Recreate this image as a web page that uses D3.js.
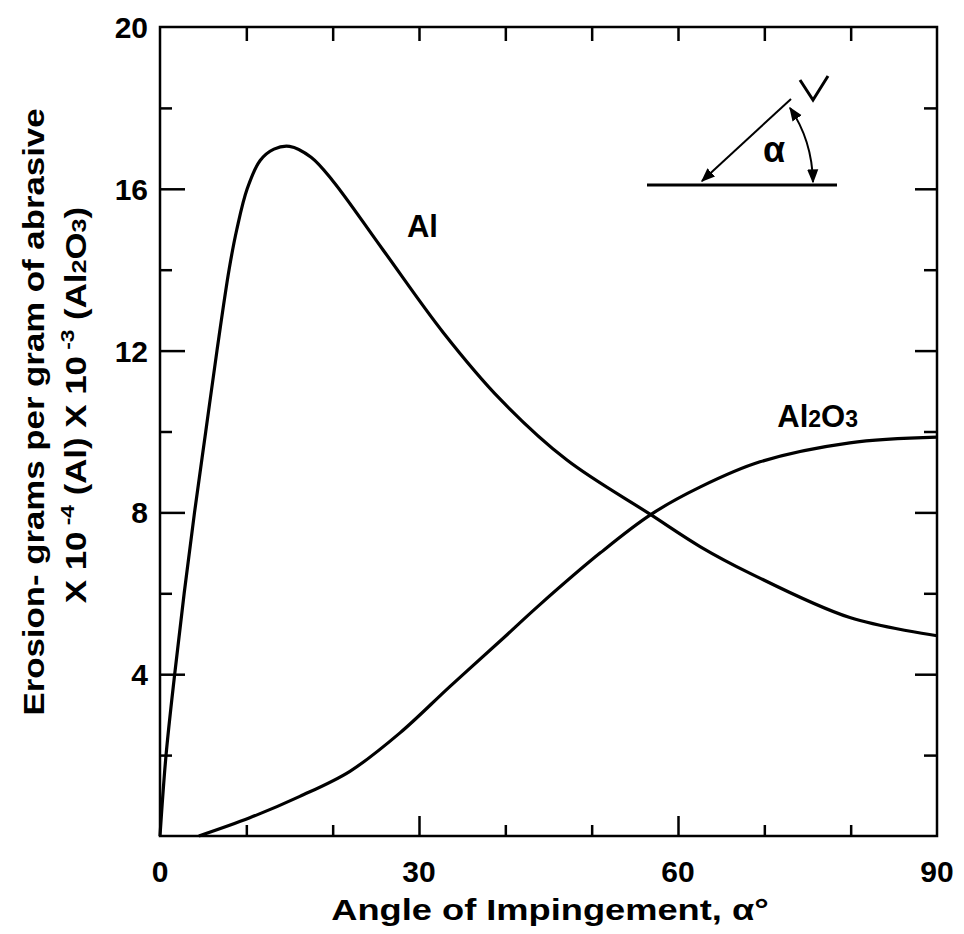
<!DOCTYPE html>
<html>
<head>
<meta charset="utf-8">
<script src="https://cdn.jsdelivr.net/npm/d3@7"></script>
<style>
  body { margin: 0; background: #fff; }
  text { font-family: "Liberation Sans", Arial, sans-serif; font-weight: bold; fill: #000; }
</style>
</head>
<body>
<div id="chart"></div>
<script>
// Data: angle (deg) vs erosion
var alAngle = [0, 0.7, 1.7, 2.8, 4.0, 5.3, 6.6, 8.0, 8.9, 10.1, 11.6, 13.2, 15.0, 17.5, 20.0, 25.8, 32.8, 39.4, 47.1, 56.8, 62.6, 68.3, 79.9, 90];
var alErosion = [0, 2.0, 4.0, 6.0, 8.0, 10.0, 12.0, 14.0, 15.0, 16.0, 16.7, 16.98, 17.05, 16.78, 16.2, 14.5, 12.45, 10.8, 9.3, 7.95, 7.15, 6.5, 5.4, 4.95];

var oxAngle = [4.5, 10.4, 16.2, 22.0, 27.8, 33.6, 39.4, 44.0, 51.0, 56.8, 62.6, 69.5, 79.9, 90];
var oxErosion = [0, 0.45, 0.98, 1.6, 2.55, 3.7, 4.82, 5.72, 7.0, 7.94, 8.63, 9.25, 9.72, 9.86];

var xTicks = [0, 10, 20, 30, 40, 50, 60, 70, 80, 90];
var xLabels = [0, 30, 60, 90];
var yTicks = [0, 2, 4, 6, 8, 10, 12, 14, 16, 18, 20];
var yLabels = [4, 8, 12, 16, 20];

var svgWidth = 964;
var svgHeight = 934;
var margin = { top: 27, right: 27, bottom: 98, left: 160 };
var width = svgWidth - margin.left - margin.right;
var height = svgHeight - margin.top - margin.bottom;

var svg = d3.select('#chart').append('svg').attr('width', svgWidth).attr('height', svgHeight);
var chartGroup = svg.append('g').attr('transform', `translate(${margin.left}, ${margin.top})`);

var xScale = d3.scaleLinear().domain([0, 90]).range([0, width]);
var yScale = d3.scaleLinear().domain([0, 20]).range([height, 0]);

// Axes: ticks point inward, majors longer than minors
function styleAxis(g) {
  g.select('.domain').remove();
  g.selectAll('.tick line').attr('stroke', '#000').attr('stroke-width', 2.5);
  g.selectAll('.tick text').remove();
}

var xMinor = xTicks.filter((d) => xLabels.indexOf(d) < 0);
var yMinor = yTicks.filter((d) => yLabels.indexOf(d) < 0 && d !== 0);

chartGroup.append('g').attr('transform', `translate(0, ${height})`)
  .call(d3.axisBottom(xScale).tickValues(xMinor).tickSize(-11)).call(styleAxis);
chartGroup.append('g').attr('transform', `translate(0, ${height})`)
  .call(d3.axisBottom(xScale).tickValues([30, 60]).tickSize(-20)).call(styleAxis);
chartGroup.append('g')
  .call(d3.axisTop(xScale).tickValues(xMinor.concat([30, 60])).tickSize(-14)).call(styleAxis);
chartGroup.append('g')
  .call(d3.axisLeft(yScale).tickValues(yMinor).tickSize(-12)).call(styleAxis);
chartGroup.append('g')
  .call(d3.axisLeft(yScale).tickValues([4, 8, 12, 16]).tickSize(-25)).call(styleAxis);
chartGroup.append('g').attr('transform', `translate(${width}, 0)`)
  .call(d3.axisRight(yScale).tickValues(yMinor).tickSize(-13)).call(styleAxis);
chartGroup.append('g').attr('transform', `translate(${width}, 0)`)
  .call(d3.axisRight(yScale).tickValues([4, 8, 12, 16]).tickSize(-22)).call(styleAxis);

// frame
chartGroup.append('rect')
  .attr('x', 0).attr('y', 0).attr('width', width).attr('height', height)
  .attr('fill', 'none').attr('stroke', '#000').attr('stroke-width', 2.5);

// tick labels
chartGroup.selectAll('.xLabel').data(xLabels).enter().append('text')
  .attr('x', (d) => xScale(d)).attr('y', height + 46)
  .attr('text-anchor', 'middle').attr('font-size', '30px')
  .text((d) => d);

chartGroup.selectAll('.yLabel').data(yLabels).enter().append('text')
  .attr('x', -12).attr('y', (d) => yScale(d) + 11)
  .attr('text-anchor', 'end').attr('font-size', '30px')
  .text((d) => d);

// curves
var line = d3.line().x((d) => xScale(d[0])).y((d) => yScale(d[1])).curve(d3.curveCatmullRom.alpha(0.5));
var alData = alAngle.map((a, i) => [a, alErosion[i]]);
var oxData = oxAngle.map((a, i) => [a, oxErosion[i]]);

chartGroup.append('path').datum(alData).attr('d', line)
  .attr('fill', 'none').attr('stroke', '#000').attr('stroke-width', 3.2);
chartGroup.append('path').datum(oxData).attr('d', line)
  .attr('fill', 'none').attr('stroke', '#000').attr('stroke-width', 3.2);

// curve labels
chartGroup.append('text').attr('x', xScale(28.6)).attr('y', yScale(14.8))
  .attr('font-size', '31px').text('Al');
var oxLabel = chartGroup.append('text').attr('x', xScale(71.5)).attr('y', yScale(10.1))
  .attr('font-size', '31px');
oxLabel.append('tspan').text('Al');
oxLabel.append('tspan').attr('font-size', '23px').text('2');
oxLabel.append('tspan').text('O');
oxLabel.append('tspan').attr('font-size', '23px').text('3');

// inset sketch of impingement angle
var inset = svg.append('g');
inset.append('line').attr('x1', 647).attr('y1', 185).attr('x2', 837).attr('y2', 185)
  .attr('stroke', '#000').attr('stroke-width', 3);
svg.append('defs').append('marker')
  .attr('id', 'arrow').attr('viewBox', '0 0 10 10').attr('refX', 9).attr('refY', 5)
  .attr('markerWidth', 7).attr('markerHeight', 7).attr('orient', 'auto-start-reverse')
  .append('path').attr('d', 'M0,1 L10,5 L0,9 z').attr('fill', '#000');
inset.append('line').attr('x1', 791).attr('y1', 99).attr('x2', 702).attr('y2', 181)
  .attr('stroke', '#000').attr('stroke-width', 2).attr('marker-end', 'url(#arrow)');
inset.append('path').attr('d', 'M790,108 Q812,140 813,182')
  .attr('fill', 'none').attr('stroke', '#000').attr('stroke-width', 2)
  .attr('marker-start', 'url(#arrow)').attr('marker-end', 'url(#arrow)');
inset.append('path').attr('d', 'M800,80 L813,100 L828,76')
  .attr('fill', 'none').attr('stroke', '#000').attr('stroke-width', 3);
inset.append('text').attr('x', 763).attr('y', 162).attr('font-size', '36px').text('α');

// axis titles
svg.append('text').attr('transform', 'translate(550, 920) scale(1.25, 1)').attr('text-anchor', 'middle')
  .attr('font-size', '29px').text('Angle of Impingement, α°');

svg.append('text').attr('transform', 'translate(44, 412) rotate(-90) scale(1.2, 1)').attr('text-anchor', 'middle')
  .attr('font-size', '29px').text('Erosion- grams per gram of abrasive');
var yTitle2 = svg.append('text').attr('transform', 'translate(86, 405) rotate(-90) scale(1.2, 1)')
  .attr('text-anchor', 'middle').attr('font-size', '29px');
yTitle2.append('tspan').text('X 10');
yTitle2.append('tspan').attr('font-size', '19px').attr('dy', -12).text(' -4');
yTitle2.append('tspan').attr('dy', 12).text(' (Al) X 10');
yTitle2.append('tspan').attr('font-size', '19px').attr('dy', -12).text(' -3');
yTitle2.append('tspan').attr('dy', 12).text(' (Al');
yTitle2.append('tspan').attr('font-size', '21px').text('2');
yTitle2.append('tspan').text('O');
yTitle2.append('tspan').attr('font-size', '21px').text('3');
yTitle2.append('tspan').text(')');
</script>
</body>
</html>
